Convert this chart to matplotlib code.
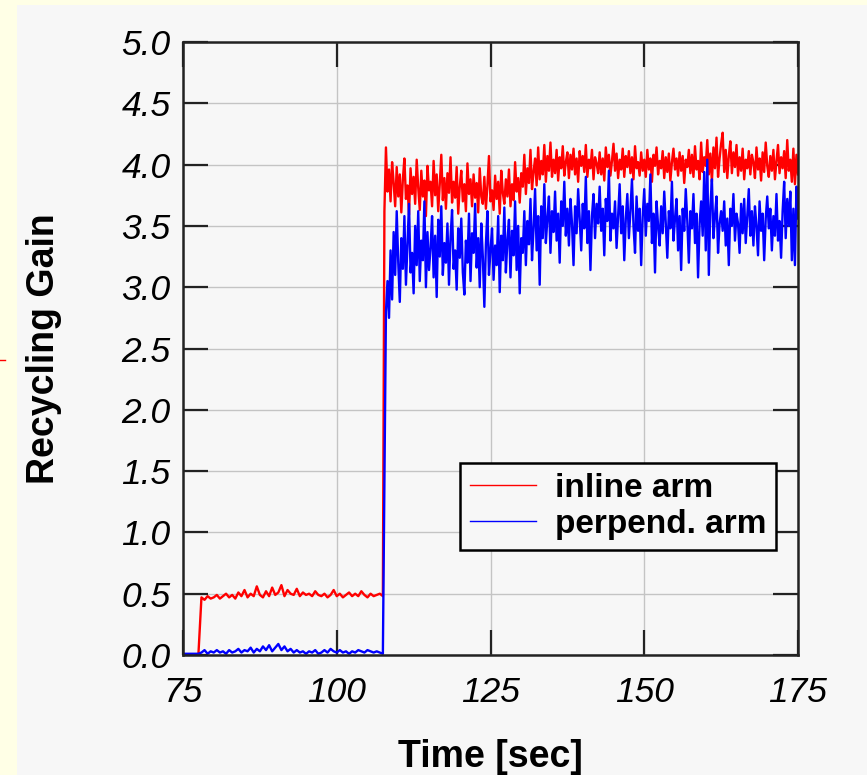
import numpy as np
import matplotlib
matplotlib.use("Agg")
import matplotlib.pyplot as plt
from matplotlib.patches import Rectangle
from matplotlib.lines import Line2D

# sample times: slow part every 0.5 s, after the jump every 0.25 s
t_pre = np.arange(75.0, 107.51, 0.5)
t_post = np.arange(107.75, 175.01, 0.25)

red_pre = [0, 0, 0, 0, 0, 0,
           0.47, 0.45, 0.48, 0.46, 0.47, 0.49, 0.46, 0.48, 0.50, 0.47,
           0.49, 0.46, 0.51, 0.48, 0.53, 0.47, 0.50, 0.48, 0.56, 0.49,
           0.47, 0.52, 0.48, 0.55, 0.49, 0.51, 0.57, 0.48, 0.53, 0.50,
           0.49, 0.54, 0.48, 0.51, 0.49, 0.50, 0.48, 0.52, 0.49, 0.48,
           0.50, 0.47, 0.49, 0.53, 0.48, 0.50, 0.47, 0.49, 0.51, 0.48,
           0.50, 0.48, 0.52, 0.49, 0.47, 0.50, 0.48, 0.49, 0.50, 0.48]

blue_pre = [0.01, 0.01, 0.01, 0.01, 0.01, 0.01,
            0.02, 0.04, 0.01, 0.03, 0.02, 0.04, 0.02, 0.03, 0.01, 0.04,
            0.02, 0.03, 0.05, 0.02, 0.04, 0.03, 0.06, 0.02, 0.05, 0.03,
            0.07, 0.04, 0.08, 0.03, 0.06, 0.09, 0.04, 0.07, 0.03, 0.05,
            0.02, 0.04, 0.02, 0.03, 0.01, 0.03, 0.02, 0.04, 0.01, 0.02,
            0.04, 0.02, 0.05, 0.03, 0.02, 0.04, 0.02, 0.03, 0.01, 0.03,
            0.02, 0.04, 0.03, 0.02, 0.04, 0.03, 0.02, 0.03, 0.02, 0.01]

red_post = [
    3.62, 4.14, 3.78, 3.96, 3.70, 4.02, 3.85, 3.66, 3.98, 3.74,
    3.92, 3.61, 3.88, 4.05, 3.72, 3.83, 3.59, 3.97, 3.76, 3.90,
    3.68, 4.04, 3.81, 3.63, 3.95, 3.74, 3.87, 3.58, 3.99, 3.79,
    3.86, 3.66, 4.03, 3.75, 3.92, 3.62, 3.84, 4.08, 3.71, 3.89,
    3.64, 3.93, 3.77, 4.06, 3.69, 3.86, 3.73, 3.98, 3.60, 3.82,
    3.95, 3.70, 3.84, 3.62, 4.01, 3.76, 3.88, 3.66, 3.92, 3.73,
    3.85, 3.61, 3.97, 3.74, 3.68, 3.90, 3.64, 3.83, 4.07, 3.70,
    3.79, 3.63, 3.91, 3.72, 3.86, 3.60, 3.95, 3.77, 3.68, 3.88,
    3.74, 3.96, 3.66, 3.84, 3.71, 4.02, 3.78, 3.89, 3.69, 3.93,
    3.82, 4.08, 3.76, 3.97, 3.85, 4.12, 3.80, 3.94, 4.05, 3.83,
    4.14, 3.88, 4.03, 3.92, 4.16, 3.86, 4.07, 3.95, 4.18, 3.90,
    4.04, 3.93, 4.12, 3.87, 4.06, 3.97, 4.15, 3.91, 4.02, 4.10,
    3.89, 4.08, 3.96, 4.13, 3.92, 4.05, 3.86, 4.11, 3.99, 4.07,
    3.94, 4.16, 3.90, 4.04, 3.97, 4.12, 3.88, 4.06, 4.01, 3.93,
    4.10, 3.92, 4.05, 3.87, 4.14, 3.98, 4.08, 3.91, 4.03, 4.17,
    3.95, 4.09, 3.89, 4.04, 3.96, 4.13, 3.90, 4.07, 3.98, 4.11,
    3.93, 4.06, 3.88, 4.15, 3.97, 4.02, 3.91, 4.10, 3.95, 4.04,
    3.90, 4.12, 3.96, 4.05, 3.86, 4.08, 3.99, 4.14, 3.92, 4.03,
    3.97, 4.11, 3.89, 4.06, 3.94, 4.09, 3.87, 4.02, 4.13, 3.96,
    4.05, 3.91, 4.10, 3.95, 4.07, 3.85, 4.04, 3.98, 4.12, 3.93,
    4.08, 3.90, 4.15, 3.96, 4.03, 3.88, 4.18, 3.94, 4.06, 3.99,
    4.20, 3.92, 4.09, 3.86, 4.14, 3.97, 4.22, 3.90, 4.05, 4.17,
    4.26, 3.94, 4.12, 3.89, 4.07, 4.19, 3.93, 4.10, 3.98, 4.16,
    3.91, 4.06, 3.95, 4.13, 3.88, 4.04, 3.97, 4.11, 3.92, 4.08,
    4.02, 3.89, 4.14, 3.96, 4.05, 3.87, 4.10, 3.94, 4.18, 3.99,
    3.90, 4.07, 3.95, 4.12, 3.88, 4.03, 4.16, 3.93, 4.06, 3.97,
    4.11, 3.89, 4.20, 3.95, 4.04, 3.86, 4.13, 3.84, 4.08, 3.92]

blue_post = [
    1.40, 2.80, 3.05, 2.75, 3.30, 2.90, 3.45, 3.10, 3.62, 3.20,
    2.88, 3.40, 3.15, 3.58, 3.02, 3.35, 3.68, 3.12, 3.28, 2.95,
    3.50, 3.18, 3.62, 3.05, 3.38, 3.22, 3.70, 3.00, 3.45, 3.14,
    3.32, 3.58, 3.08, 3.42, 2.92, 3.55, 3.25, 3.66, 3.10, 3.36,
    3.20, 3.52, 3.02, 3.40, 3.63, 3.15, 3.30, 2.98, 3.48, 3.24,
    3.56, 3.12, 2.94, 3.38, 3.20, 3.60, 3.05, 3.44, 3.28, 3.68,
    3.16, 3.40, 3.00, 3.52, 3.25, 2.84, 3.35, 3.62, 3.10, 3.30,
    3.48, 3.06, 3.34, 3.18, 3.58, 2.96, 3.42, 3.22, 3.65, 3.12,
    3.38, 3.55, 3.08, 3.46, 3.26, 3.70, 3.14, 3.50, 2.95, 3.40,
    3.28, 3.62, 3.18, 3.54, 3.35, 3.72, 3.22, 3.48, 3.80, 3.30,
    3.58, 3.02, 3.66, 3.40, 3.84, 3.36, 3.56, 3.74, 3.28, 3.62,
    3.45, 3.78, 3.38, 3.60, 3.20, 3.70, 3.50, 3.86, 3.42, 3.64,
    3.34, 3.72, 3.52, 3.18, 3.66, 3.44, 3.80, 3.56, 3.30, 3.68,
    3.48, 3.90, 3.36, 3.62, 3.14, 3.58, 3.76, 3.40, 3.68, 3.52,
    3.82, 3.46, 3.64, 3.26, 3.72, 3.54, 3.95, 3.38, 3.60, 3.48,
    3.70, 3.32, 3.58, 3.84, 3.44, 3.66, 3.22, 3.56, 3.76, 3.40,
    3.62, 3.88, 3.50, 3.28, 3.74, 3.46, 3.64, 3.18, 3.58, 3.80,
    3.42, 3.68, 3.54, 3.92, 3.36, 3.60, 3.12, 3.70, 3.50, 3.34,
    3.66, 3.44, 3.78, 3.52, 3.24, 3.62, 3.48, 3.86, 3.38, 3.56,
    3.72, 3.30, 3.58, 3.14, 3.64, 3.46, 3.80, 3.54, 3.20, 3.62,
    3.48, 3.76, 3.36, 3.60, 3.08, 3.52, 3.70, 3.42, 3.94, 3.30,
    4.04, 3.10, 3.66, 3.88, 3.40, 3.58, 3.74, 3.28, 3.52, 3.62,
    3.46, 3.70, 3.34, 3.56, 3.18, 3.64, 3.50, 3.76, 3.38, 3.60,
    3.52, 3.28, 3.68, 3.44, 3.72, 3.36, 3.58, 3.80, 3.42, 3.62,
    3.34, 3.66, 3.50, 3.26, 3.70, 3.46, 3.60, 3.22, 3.56, 3.74,
    3.48, 3.64, 3.30, 3.58, 3.42, 3.76, 3.38, 3.54, 3.24, 3.62,
    3.86, 3.40, 3.72, 3.50, 3.78, 3.22, 3.64, 3.18, 3.82, 3.56]

x_ticks = [75, 100, 125, 150, 175]
y_ticks = [0.0, 0.5, 1.0, 1.5, 2.0, 2.5, 3.0, 3.5, 4.0, 4.5, 5.0]

time = np.concatenate([t_pre, t_post])
inline_arm = np.concatenate([red_pre, red_post])
perpend_arm = np.concatenate([blue_pre, blue_post])

# %%
plt.rcParams['font.family'] = ['Liberation Sans', 'DejaVu Sans']
panel = '#f7f7f7'

fig = plt.figure(figsize=(8.67, 7.75), dpi=100, facecolor='#ffffe6')
fig.add_artist(Rectangle((17 / 867, 0), 1, 770 / 775, transform=fig.transFigure,
                         facecolor=panel, edgecolor='none', zorder=0))
fig.add_artist(Line2D([0, 5 / 867], [1 - 360 / 775] * 2, transform=fig.transFigure,
                      color='red', lw=1))

ax = fig.add_axes([183 / 867, 1 - 655 / 775, 615 / 867, 613 / 775])
ax.set_facecolor(panel)

ax.plot(time, inline_arm, color='#ff0000', lw=1.7, label='inline arm')
ax.plot(time, perpend_arm, color='#0000ff', lw=1.7, label='perpend. arm')

ax.set_xlim(75, 175)
ax.set_ylim(0, 5)
ax.set_xticks(x_ticks)
ax.set_yticks(y_ticks)
ax.set_yticklabels([f'{v:.1f}' for v in y_ticks])
ax.grid(True, color='#c4c4c4', lw=1)
ax.set_axisbelow(True)

ax.tick_params(direction='in', length=18, width=1.6, top=True, right=True,
               labelsize=25.5, color='#222222')
ax.tick_params(axis='x', pad=15)
ax.tick_params(axis='y', pad=9)
for lab in ax.get_xticklabels() + ax.get_yticklabels():
    lab.set_fontstyle('italic')
for sp in ax.spines.values():
    sp.set_linewidth(1.8)
    sp.set_color('#222222')

ax.set_xlabel('Time [sec]', fontsize=27, fontweight='bold', labelpad=22)
ax.set_ylabel('Recycling Gain', fontsize=27, fontweight='bold', labelpad=43)

leg = ax.legend(loc='upper left', bbox_to_anchor=(0.45, 0.313), borderaxespad=0,
                fancybox=False, framealpha=1, facecolor=panel, edgecolor='black',
                prop={'weight': 'bold', 'size': 24}, handlelength=2.0,
                handletextpad=0.55, labelspacing=0.15, borderpad=0.3)
leg.get_frame().set_linewidth(1.8)
for ln in leg.get_lines():
    ln.set_linewidth(1.0)

fig.savefig('out.png', dpi=100, facecolor=fig.get_facecolor())
